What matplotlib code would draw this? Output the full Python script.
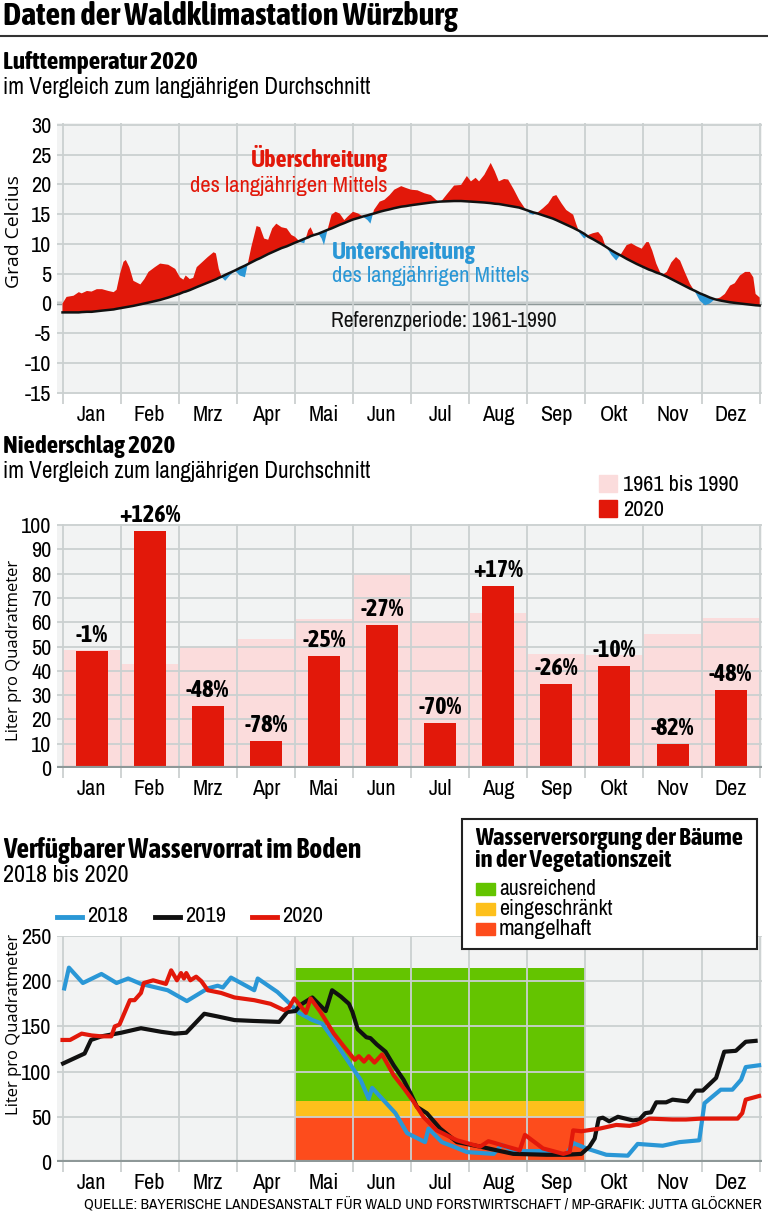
import matplotlib
matplotlib.use("Agg")
import matplotlib.pyplot as plt
import matplotlib.font_manager as fm
from matplotlib.patches import Rectangle
from matplotlib.lines import Line2D


def wnum(w):
    if isinstance(w, int):
        return w
    return {'light': 300, 'normal': 400, 'regular': 400, 'book': 400, 'medium': 500,
            'semibold': 600, 'demibold': 600, 'bold': 700, 'heavy': 800, 'black': 900}.get(str(w).lower(), 400)


# schmale Schriften suchen (regular und bold), sonst Lato
weights = {}
for f in fm.fontManager.ttflist:
    if 'Narrow' in f.name or 'Condensed' in f.name:
        if f.style == 'normal':
            weights.setdefault(f.name, set()).add(wnum(f.weight))
REG = next((n for n, ws in sorted(weights.items()) if min(ws) <= 450), 'Lato')
BOLD = next((n for n, ws in sorted(weights.items()) if max(ws) >= 600), None)
if BOLD is None:
    BOLD = 'Lato'
if REG in weights and max(weights[REG]) >= 600:
    BOLD = REG
plt.rcParams['font.family'] = [REG, 'DejaVu Sans']
FB = [BOLD, 'DejaVu Sans']
YLAB = ['Open Sans', 'DejaVu Sans']

W, H = 768, 1217
RED = '#e2180a'
BLUE = '#2a97d6'
PINK = '#fbdcdc'
BG = '#f2f3f3'
GRID = '#cbd0d0'
BASE = '#8e9898'

months = ['Jan', 'Feb', 'Mrz', 'Apr', 'Mai', 'Jun', 'Jul', 'Aug', 'Sep', 'Okt', 'Nov', 'Dez']

# Lufttemperatur 2020 (Monat als Dezimalzahl) und langjaehriges Mittel 1961-1990
temp_m = [0.00, 0.07, 0.19, 0.28, 0.33, 0.42, 0.50, 0.59, 0.68, 0.79, 0.88, 0.93, 0.99, 1.05,
          1.09, 1.15, 1.22, 1.34, 1.41, 1.48, 1.59, 1.68, 1.82, 1.94, 2.02, 2.08, 2.12, 2.19,
          2.25, 2.31, 2.40, 2.50, 2.60, 2.64, 2.69, 2.74, 2.80, 2.88, 2.97, 3.05, 3.14, 3.19,
          3.25, 3.34, 3.40, 3.47, 3.54, 3.61, 3.68, 3.77, 3.86, 3.94, 4.00, 4.09, 4.16, 4.23,
          4.27, 4.33, 4.40, 4.46, 4.50, 4.56, 4.63, 4.70, 4.77, 4.85, 4.91, 5.00, 5.09, 5.17,
          5.25, 5.30, 5.36, 5.46, 5.54, 5.63, 5.71, 5.83, 5.91, 6.00, 6.11, 6.23, 6.34, 6.43,
          6.49, 6.54, 6.63, 6.74, 6.86, 6.96, 7.03, 7.11, 7.17, 7.26, 7.37, 7.44, 7.51, 7.60,
          7.67, 7.77, 7.86, 7.95, 8.04, 8.10, 8.18, 8.27, 8.36, 8.44, 8.50, 8.59, 8.67, 8.79,
          8.84, 8.90, 8.98, 9.05, 9.13, 9.22, 9.29, 9.34, 9.45, 9.53, 9.62, 9.71, 9.79, 9.88,
          9.97, 10.05, 10.09, 10.15, 10.22, 10.31, 10.40, 10.48, 10.56, 10.63, 10.71, 10.80,
          10.89, 10.97, 11.06, 11.14, 11.23, 11.32, 11.40, 11.49, 11.57, 11.66, 11.75, 11.83,
          11.89, 11.93, 12.00]
temp_2020 = [0.0, 1.1, 1.3, 1.9, 1.7, 2.1, 2.0, 2.4, 2.4, 2.1, 1.9, 2.3, 5.0, 7.0,
             7.3, 6.1, 3.8, 3.2, 4.1, 5.3, 6.1, 6.7, 6.5, 5.8, 4.4, 4.0, 4.7, 4.1,
             4.3, 6.1, 6.9, 7.8, 8.6, 8.4, 5.8, 4.4, 3.8, 4.7, 5.5, 4.7, 4.4, 6.7,
             9.5, 13.0, 12.8, 10.9, 10.7, 12.6, 13.4, 12.8, 12.6, 11.5, 11.2, 10.3, 10.1, 12.3,
             12.8, 11.5, 11.8, 10.9, 9.8, 12.3, 14.9, 15.4, 15.1, 14.0, 14.6, 15.4, 15.1, 14.6,
             14.0, 13.4, 15.7, 17.1, 17.4, 18.2, 19.1, 19.7, 19.4, 19.1, 19.0, 18.5, 18.2, 17.4,
             17.0, 17.4, 18.5, 19.8, 19.9, 21.4, 20.5, 21.1, 20.5, 21.6, 23.6, 22.2, 20.5, 20.9,
             20.8, 19.1, 17.4, 16.1, 15.1, 14.9, 15.3, 16.0, 16.8, 18.0, 18.2, 16.8, 15.7, 14.9,
             13.4, 11.8, 10.9, 11.5, 11.8, 12.0, 11.2, 9.8, 8.1, 7.2, 8.4, 9.8, 10.1, 9.6,
             9.2, 10.3, 10.3, 8.9, 6.7, 4.7, 5.3, 6.9, 7.8, 7.2, 5.3, 3.3,
             1.9, 0.45, -0.3, 0.0, 0.7, 1.0, 1.6, 3.0, 3.4, 4.7, 5.3, 5.3,
             4.4, 1.6, 1.0]
temp_ref = [-1.5, -1.5, -1.5, -1.5, -1.45, -1.4, -1.4, -1.3, -1.2, -1.1, -1.0, -0.9, -0.8, -0.7,
            -0.65, -0.55, -0.4, -0.15, 0.0, 0.15, 0.4, 0.6, 1.0, 1.4, 1.65, 1.9, 2.0, 2.25,
            2.5, 2.75, 3.1, 3.5, 3.9, 4.05, 4.3, 4.5, 4.8, 5.15, 5.55, 5.95, 6.35, 6.6,
            6.9, 7.35, 7.6, 7.95, 8.3, 8.6, 8.9, 9.3, 9.6, 9.95, 10.2, 10.55, 10.85, 11.1,
            11.3, 11.5, 11.7, 11.95, 12.1, 12.35, 12.6, 12.9, 13.2, 13.5, 13.75, 14.1, 14.35, 14.6,
            14.8, 14.95, 15.1, 15.4, 15.6, 15.8, 16.0, 16.25, 16.35, 16.5, 16.65, 16.8, 16.95, 17.05,
            17.1, 17.12, 17.15, 17.2, 17.2, 17.15, 17.1, 17.05, 17.0, 16.95, 16.85, 16.75, 16.7, 16.55,
            16.45, 16.25, 16.1, 15.8, 15.5, 15.3, 15.1, 14.8, 14.5, 14.25, 14.0, 13.6, 13.25, 12.7,
            12.45, 12.15, 11.7, 11.2, 10.8, 10.3, 9.9, 9.6, 8.9, 8.45, 8.0, 7.5, 7.1, 6.65,
            6.25, 5.9, 5.7, 5.5, 5.2, 4.9, 4.5, 4.1, 3.7, 3.35, 2.95, 2.5,
            2.1, 1.7, 1.35, 1.0, 0.7, 0.5, 0.35, 0.2, 0.1, 0.0, -0.1, -0.2,
            -0.25, -0.3, -0.35]

# Niederschlag in Liter pro Quadratmeter
rain_1961_1990 = [48.5, 43.0, 49.7, 53.0, 61.2, 80.1, 60.5, 63.9, 47.1, 46.4, 55.1, 61.9]
rain_2020 = [48.0, 97.5, 25.5, 11.2, 46.1, 58.8, 18.4, 74.9, 34.6, 42.0, 9.7, 32.2]
rain_pct = ['-1%', '+126%', '-48%', '-78%', '-25%', '-27%', '-70%', '+17%', '-26%', '-10%', '-82%', '-48%']

# Wasservorrat im Boden
w2018_m = [0.03, 0.11, 0.35, 0.67, 0.93, 1.13, 1.35, 1.81, 2.14, 2.50, 2.67, 2.76, 2.90, 3.30, 3.36,
           3.70, 3.93, 4.07, 4.30, 4.47, 4.67, 4.90, 5.13, 5.27, 5.33, 5.53, 5.73, 5.93, 6.24, 6.30,
           6.53, 6.73, 6.96, 7.19, 7.42, 7.56, 7.76, 8.33, 8.67, 8.79, 9.02, 9.36, 9.73, 9.90, 10.33,
           10.62, 10.96, 11.05, 11.33, 11.53, 11.68, 11.76, 11.99]
w2018 = [192, 215, 198, 208, 198, 203, 197, 190, 178, 192, 195, 193, 204, 190, 203,
         188, 174, 165, 157, 153, 135, 113, 91, 70, 82, 68, 54, 32, 22, 37,
         22, 17, 11, 10, 9, 19, 12, 12, 8, 21, 15, 8, 7, 20, 18,
         22, 24, 65, 80, 80, 91, 105, 107]
w2019_m = [0.01, 0.38, 0.49, 0.67, 1.01, 1.35, 1.70, 1.93, 2.13, 2.44, 2.67, 2.96, 3.30, 3.73, 3.87,
           4.01, 4.10, 4.30, 4.53, 4.64, 4.79, 4.93, 4.99, 5.08, 5.23, 5.30, 5.41, 5.56, 5.70, 5.87,
           5.99, 6.10, 6.27, 6.50, 6.79, 7.19, 7.47, 7.76, 8.33, 8.67, 8.93, 9.07, 9.16, 9.23, 9.30,
           9.41, 9.56, 9.82, 9.93, 10.03, 10.13, 10.22, 10.39, 10.50, 10.76, 10.90, 11.02, 11.25,
           11.39, 11.59, 11.76, 11.93]
w2019 = [109, 120, 135, 139, 143, 148, 144, 142, 143, 164, 161, 157, 156, 155, 166,
         167, 174, 182, 167, 190, 183, 175, 166, 147, 138, 137, 130, 122, 107, 91,
         76, 61, 54, 37, 22, 17, 13, 9, 8, 8, 9, 17, 26, 48, 49,
         45, 50, 46, 47, 54, 55, 66, 66, 69, 67, 79, 79, 93,
         122, 123, 133, 134]
w2020_m = [0.00, 0.13, 0.33, 0.50, 0.67, 0.84, 0.90, 0.98, 1.16, 1.24, 1.35, 1.40, 1.56, 1.78, 1.87,
           1.97, 2.04, 2.09, 2.13, 2.20, 2.30, 2.39, 2.50, 2.73, 2.96, 3.30, 3.58, 3.81, 3.90, 3.99,
           4.19, 4.27, 4.44, 4.67, 4.84, 5.03, 5.10, 5.19, 5.27, 5.37, 5.50, 5.70, 5.87, 6.04, 6.21,
           6.44, 6.79, 7.07, 7.19, 7.33, 7.44, 7.65, 7.87, 7.96, 8.27, 8.62, 8.73, 8.79, 8.93, 9.25,
           9.53, 9.76, 9.90, 10.10, 10.50, 10.73, 10.99, 11.62, 11.70, 11.76, 11.99]
w2020 = [135, 135, 142, 140, 139, 139, 150, 152, 179, 179, 187, 198, 201, 197, 212,
         201, 209, 203, 209, 201, 205, 200, 190, 187, 182, 179, 175, 168, 171, 181,
         165, 181, 166, 142, 128, 113, 117, 111, 117, 110, 119, 96, 82, 67, 50,
         35, 24, 19, 17, 23, 21, 17, 13, 30, 15, 9, 11, 35, 34, 37,
         41, 40, 42, 48, 47, 47, 48, 48, 54, 69, 73]

veg_period = [4, 9]
supply_labels = ['ausreichend', 'eingeschränkt', 'mangelhaft']
supply_limits = [215, 68, 50, 0]
supply_colors = ['#64c400', '#fdc01c', '#fd4c1c']

fig = plt.figure(figsize=(W / 100, H / 100), dpi=100)
renderer = fig.canvas.get_renderer()


def rect(l, t, r, b):
    return [l / W, 1 - b / H, (r - l) / W, (b - t) / H]


def fx(x):
    return x / W


def fy(y):
    return 1 - y / H


def fit(s, width, **kw):
    # Schriftgroesse so waehlen, dass der Text so breit ist wie im Original
    t = fig.text(0, 0, s, fontsize=20, **kw)
    w0 = t.get_window_extent(renderer).width
    t.remove()
    return 20 * width / w0


def put(x, y, s, width, bold=False, **kw):
    rot = kw.pop('rotation', 0)
    if bold:
        kw.update(family=FB, weight='bold')
    size = fit(s, width, **kw)
    return fig.text(fx(x), fy(y), s, fontsize=size, rotation=rot, va='center', **kw)


TICK = (fit('250', 31) + fit('Aug', 32)) / 2
PCT = fit('+126%', 61, family=FB, weight='bold')


def style_axes(ax, ymin, ymax, yticks):
    ax.set_facecolor(BG)
    for s in ax.spines.values():
        s.set_visible(False)
    ax.set_xlim(-0.095, 12.04)
    ax.set_ylim(ymin, ymax)
    ax.set_yticks(yticks)
    ax.set_xticks(range(13))
    ax.set_xticklabels([])
    ax.set_xticks([i + 0.5 for i in range(12)], minor=True)
    ax.set_xticklabels(months, minor=True, fontsize=TICK)
    ax.tick_params(axis='x', which='major', length=7, color=GRID, width=1.3)
    ax.tick_params(axis='x', which='minor', length=0, pad=8)
    ax.tick_params(axis='y', length=0, pad=4, labelsize=TICK)
    ax.grid(True, which='major', color=GRID, lw=1.3)


# Kopf
put(3, 16, 'Daten der Waldklimastation Würzburg', 454, bold=True)
fig.add_artist(Line2D([0, 1], [fy(36), fy(36)], color='#333333', lw=1.5))

# --- Lufttemperatur ---
put(3, 62, 'Lufttemperatur 2020', 194, bold=True)
put(3, 88, 'im Vergleich zum langjährigen Durchschnitt', 367)
ax1 = fig.add_axes(rect(57, 123, 762, 394))
style_axes(ax1, -15.2, 30.3, range(-15, 31, 5))
ax1.set_yticklabels([str(v) for v in range(-15, 31, 5)])
ax1.axhline(0, color=BASE, lw=2.5, zorder=1.5)
ax1.fill_between(temp_m, temp_ref, temp_2020, where=[a >= b for a, b in zip(temp_2020, temp_ref)],
                 interpolate=True, color=RED, lw=0, zorder=2)
ax1.fill_between(temp_m, temp_ref, temp_2020, where=[a < b for a, b in zip(temp_2020, temp_ref)],
                 interpolate=True, color=BLUE, lw=0, zorder=2)
ax1.plot(temp_m, temp_ref, color='#111111', lw=1.8, zorder=3)
put(388, 158, 'Überschreitung', 136, bold=True, color=RED, ha='right')
put(388, 186, 'des langjährigen Mittels', 197, color=RED, ha='right')
put(332, 253, 'Unterschreitung', 143, bold=True, color=BLUE)
put(332, 276, 'des langjährigen Mittels', 197, color=BLUE)
put(331, 321, 'Referenzperiode: 1961-1990', 225, color='#111111')
put(14, 232, 'Grad Celcius', 113, family=YLAB, rotation=90, ha='center')

# --- Niederschlag ---
put(3, 446, 'Niederschlag 2020', 172, bold=True)
put(3, 472, 'im Vergleich zum langjährigen Durchschnitt', 367)
fig.add_artist(Rectangle((fx(599), fy(492)), 18 / W, 17 / H, color=PINK, transform=fig.transFigure))
fig.add_artist(Rectangle((fx(599), fy(517)), 18 / W, 17 / H, color=RED, transform=fig.transFigure))
put(623, 485, '1961 bis 1990', 116)
put(623, 510, '2020', 41)
ax2 = fig.add_axes(rect(57, 524, 762, 768))
style_axes(ax2, 0, 100.5, range(0, 101, 10))
ax2.xaxis.set_zorder(1.5)
ax2.yaxis.set_zorder(1.5)
xc = [i + 0.5 for i in range(12)]
ax2.bar(xc, rain_1961_1990, width=0.97, color=PINK, zorder=1)
ax2.bar(xc, rain_2020, width=0.55, color=RED, zorder=2)
ax2.axhline(0, color=BASE, lw=3, zorder=3)
for x, v, t in zip(xc, rain_2020, rain_pct):
    ax2.annotate(t, (x, v), xytext=(0, 3), textcoords='offset points', ha='center', va='bottom',
                 fontsize=PCT, family=FB, weight='bold', zorder=4)
put(14, 650, 'Liter pro Quadratmeter', 182, family=YLAB, rotation=90, ha='center')

# --- Wasservorrat ---
put(3, 851, 'Verfügbarer Wasservorrat im Boden', 357, bold=True)
put(3, 876, '2018 bis 2020', 126)
ax3 = fig.add_axes(rect(57, 936, 762, 1162))
style_axes(ax3, 0, 250, range(0, 251, 50))
ax3.xaxis.set_zorder(1.5)
ax3.yaxis.set_zorder(1.5)
for i in range(3):
    ax3.fill_between(veg_period, supply_limits[i + 1], supply_limits[i], color=supply_colors[i], lw=0, zorder=1)
ax3.plot(w2018_m, w2018, color=BLUE, lw=3, zorder=3)
ax3.plot(w2019_m, w2019, color='#111111', lw=3, zorder=3.1)
ax3.plot(w2020_m, w2020, color=RED, lw=3, zorder=3.2)
ax3.axhline(0, color=BASE, lw=3, zorder=2.5)
put(14, 1024, 'Liter pro Quadratmeter', 182, family=YLAB, rotation=90, ha='center')

for x0, col, lab in [(57, BLUE, '2018'), (155, '#111111', '2019'), (252, RED, '2020')]:
    fig.add_artist(Line2D([fx(x0), fx(x0 + 25)], [fy(917), fy(917)], color=col, lw=3.5))
    put(x0 + 30, 916, lab, 41)

# Legende Wasserversorgung
fig.add_artist(Rectangle((fx(462), fy(949)), 295 / W, 130 / H, facecolor='white', edgecolor='#222222',
                         lw=1.5, transform=fig.transFigure, zorder=5))
put(475, 838, 'Wasserversorgung der Bäume', 267, bold=True, zorder=6)
put(475, 860, 'in der Vegetationszeit', 195, bold=True, zorder=6)
for yc, lab, col, wd in zip([889, 909, 929], supply_labels, supply_colors, [97, 113, 93]):
    fig.add_artist(Rectangle((fx(476), fy(yc + 6)), 19 / W, 12 / H, color=col, transform=fig.transFigure, zorder=6))
    put(499, yc, lab, wd, zorder=6)

put(762, 1205, 'QUELLE: BAYERISCHE LANDESANSTALT FÜR WALD UND FORSTWIRTSCHAFT / MP-GRAFIK: JUTTA GLÖCKNER',
    677, ha='right')

fig.savefig('out.png', dpi=100)
